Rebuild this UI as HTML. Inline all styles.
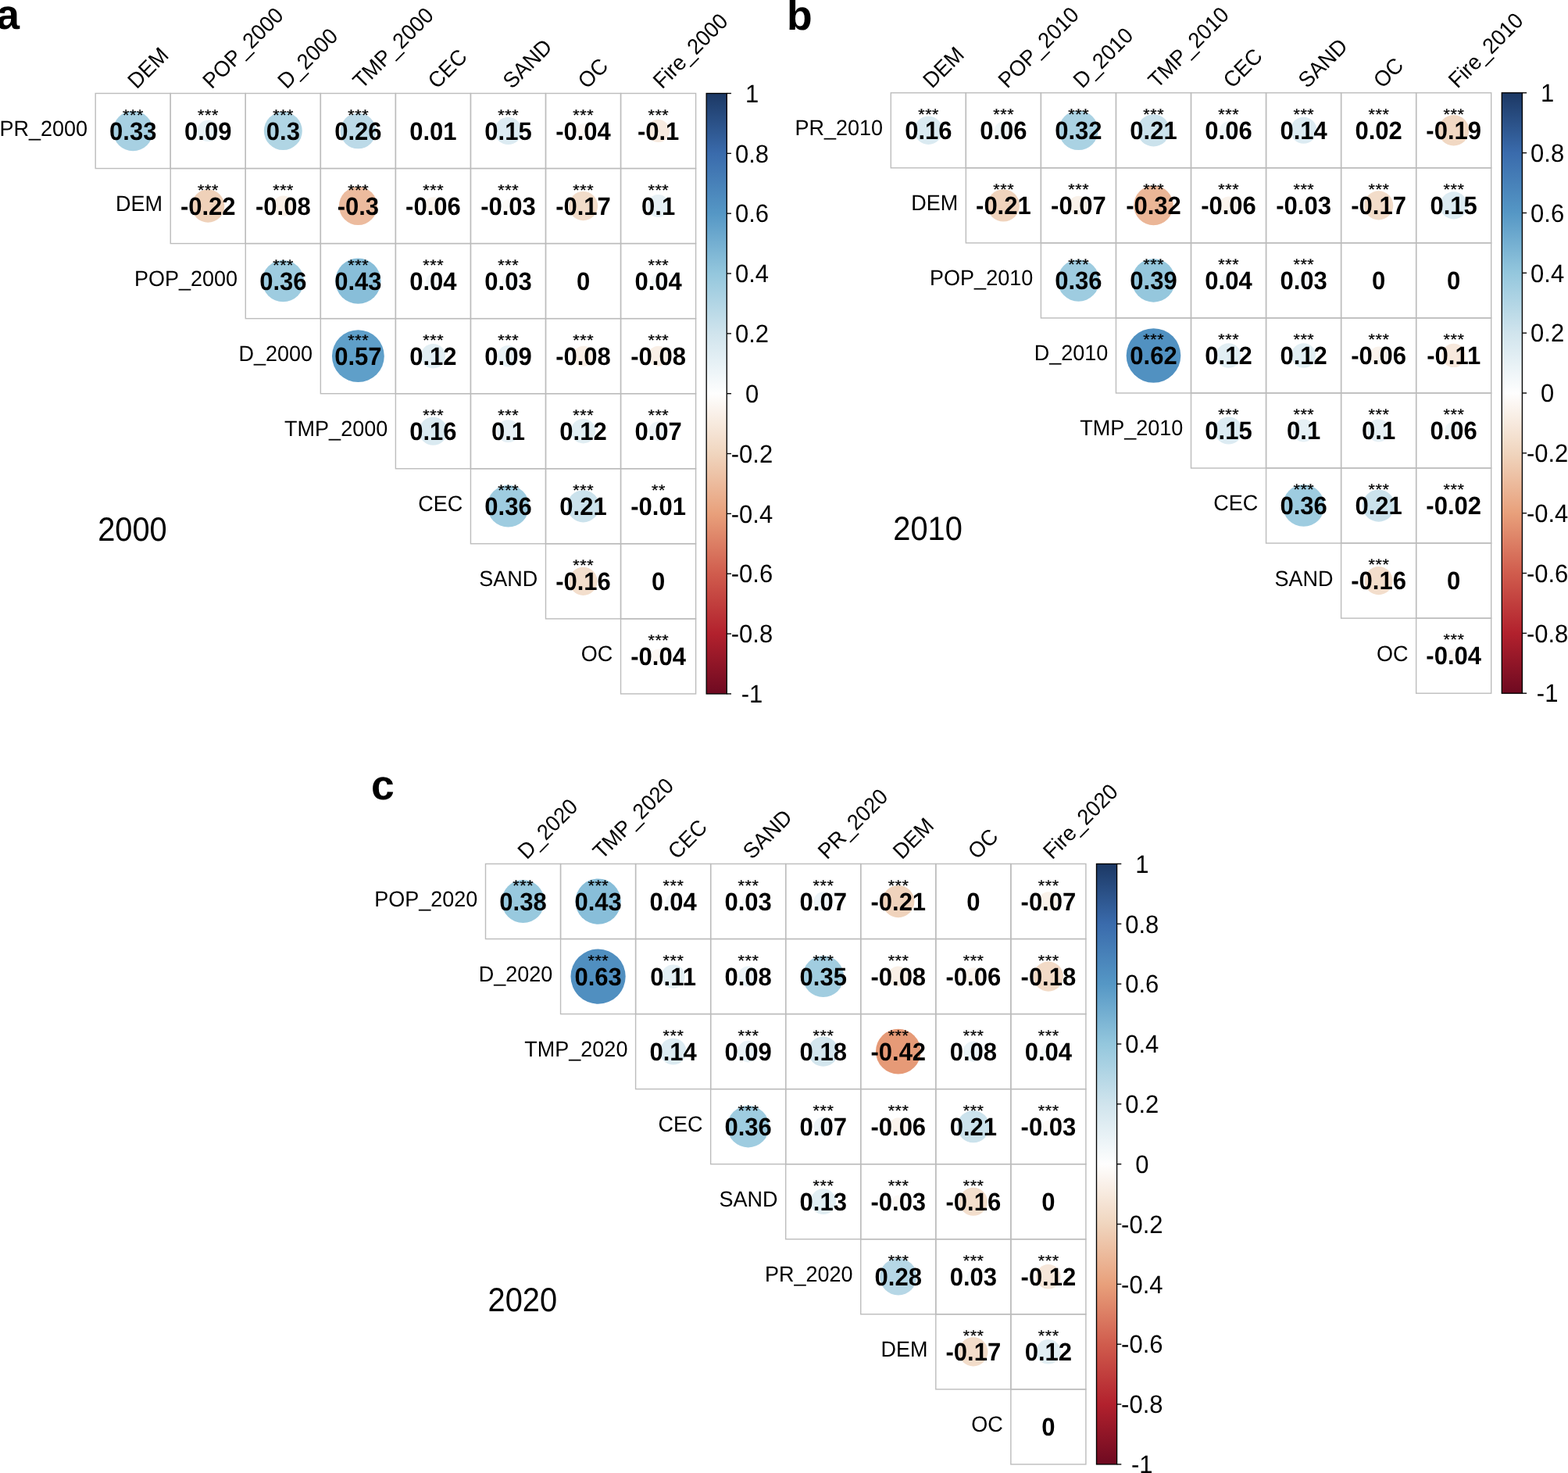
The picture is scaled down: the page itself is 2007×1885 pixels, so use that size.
<!DOCTYPE html><html><head><meta charset="utf-8"><title>Correlation matrices 2000, 2010, 2020</title><style>html,body{margin:0;padding:0;background:#fff;}svg{display:block;}text{font-family:"Liberation Sans", Arial, Helvetica, sans-serif;text-rendering:geometricPrecision;}</style></head><body>
<svg width="2007" height="1885" viewBox="0 0 2007 1885">
<defs><linearGradient id="cb" x1="0" y1="0" x2="0" y2="1">
<stop offset="0" stop-color="#1c3864"/>
<stop offset="0.1" stop-color="#3a6bac"/>
<stop offset="0.2" stop-color="#5597c5"/>
<stop offset="0.3" stop-color="#94c7dd"/>
<stop offset="0.4" stop-color="#d0e4ed"/>
<stop offset="0.5" stop-color="#fefefe"/>
<stop offset="0.6" stop-color="#f0d5be"/>
<stop offset="0.7" stop-color="#e8a07b"/>
<stop offset="0.8" stop-color="#d05c4d"/>
<stop offset="0.9" stop-color="#b2212d"/>
<stop offset="1" stop-color="#6e0a21"/>
</linearGradient></defs>
<rect width="2007" height="1885" fill="#fff"/>
<g>
<circle cx="170.22" cy="167.53" r="25.63" fill="#a7d0e2"/>
<circle cx="266.27" cy="167.53" r="13.77" fill="#e8f2f6"/>
<circle cx="362.32" cy="167.53" r="24.47" fill="#b0d5e4"/>
<circle cx="458.38" cy="167.53" r="22.84" fill="#bcdae8"/>
<circle cx="554.42" cy="167.53" r="5.12" fill="#fbfcfd"/>
<circle cx="650.48" cy="167.53" r="17.54" fill="#dcebf2"/>
<circle cx="746.52" cy="167.53" r="9.44" fill="#fcf7f3"/>
<circle cx="842.58" cy="167.53" r="14.47" fill="#f7eadf"/>
<circle cx="266.27" cy="263.57" r="21.07" fill="#efd1b9"/>
<circle cx="362.32" cy="263.57" r="13.03" fill="#f9efe6"/>
<circle cx="458.38" cy="263.57" r="24.47" fill="#ecbb9e"/>
<circle cx="554.42" cy="263.57" r="11.39" fill="#faf3ec"/>
<circle cx="650.48" cy="263.57" r="8.29" fill="#fcf9f6"/>
<circle cx="746.52" cy="263.57" r="18.62" fill="#f2dcc9"/>
<circle cx="842.58" cy="263.57" r="14.47" fill="#e6f0f5"/>
<circle cx="362.32" cy="359.62" r="26.73" fill="#9ecce0"/>
<circle cx="458.38" cy="359.62" r="29.14" fill="#88bed9"/>
<circle cx="554.42" cy="359.62" r="9.44" fill="#f4f8fa"/>
<circle cx="650.48" cy="359.62" r="8.29" fill="#f6f9fb"/>
<circle cx="842.58" cy="359.62" r="9.44" fill="#f4f8fa"/>
<circle cx="458.38" cy="455.68" r="33.43" fill="#5f9fc9"/>
<circle cx="554.42" cy="455.68" r="15.77" fill="#e1eef3"/>
<circle cx="650.48" cy="455.68" r="13.77" fill="#e8f2f6"/>
<circle cx="746.52" cy="455.68" r="13.03" fill="#f9efe6"/>
<circle cx="842.58" cy="455.68" r="13.03" fill="#f9efe6"/>
<circle cx="554.42" cy="551.72" r="18.09" fill="#daeaf1"/>
<circle cx="650.48" cy="551.72" r="14.47" fill="#e6f0f5"/>
<circle cx="746.52" cy="551.72" r="15.77" fill="#e1eef3"/>
<circle cx="842.58" cy="551.72" r="12.24" fill="#edf4f8"/>
<circle cx="650.48" cy="647.77" r="26.73" fill="#9ecce0"/>
<circle cx="746.52" cy="647.77" r="20.61" fill="#cbe2ec"/>
<circle cx="842.58" cy="647.77" r="5.12" fill="#fefdfc"/>
<circle cx="746.52" cy="743.82" r="18.09" fill="#f3decc"/>
<circle cx="842.58" cy="839.88" r="9.44" fill="#fcf7f3"/>
<rect x="122.2" y="119.5" width="96.05" height="96.05" fill="none" stroke="#bcbcbc" stroke-width="1.4"/>
<rect x="218.25" y="119.5" width="96.05" height="96.05" fill="none" stroke="#bcbcbc" stroke-width="1.4"/>
<rect x="314.3" y="119.5" width="96.05" height="96.05" fill="none" stroke="#bcbcbc" stroke-width="1.4"/>
<rect x="410.35" y="119.5" width="96.05" height="96.05" fill="none" stroke="#bcbcbc" stroke-width="1.4"/>
<rect x="506.4" y="119.5" width="96.05" height="96.05" fill="none" stroke="#bcbcbc" stroke-width="1.4"/>
<rect x="602.45" y="119.5" width="96.05" height="96.05" fill="none" stroke="#bcbcbc" stroke-width="1.4"/>
<rect x="698.5" y="119.5" width="96.05" height="96.05" fill="none" stroke="#bcbcbc" stroke-width="1.4"/>
<rect x="794.55" y="119.5" width="96.05" height="96.05" fill="none" stroke="#bcbcbc" stroke-width="1.4"/>
<rect x="218.25" y="215.55" width="96.05" height="96.05" fill="none" stroke="#bcbcbc" stroke-width="1.4"/>
<rect x="314.3" y="215.55" width="96.05" height="96.05" fill="none" stroke="#bcbcbc" stroke-width="1.4"/>
<rect x="410.35" y="215.55" width="96.05" height="96.05" fill="none" stroke="#bcbcbc" stroke-width="1.4"/>
<rect x="506.4" y="215.55" width="96.05" height="96.05" fill="none" stroke="#bcbcbc" stroke-width="1.4"/>
<rect x="602.45" y="215.55" width="96.05" height="96.05" fill="none" stroke="#bcbcbc" stroke-width="1.4"/>
<rect x="698.5" y="215.55" width="96.05" height="96.05" fill="none" stroke="#bcbcbc" stroke-width="1.4"/>
<rect x="794.55" y="215.55" width="96.05" height="96.05" fill="none" stroke="#bcbcbc" stroke-width="1.4"/>
<rect x="314.3" y="311.6" width="96.05" height="96.05" fill="none" stroke="#bcbcbc" stroke-width="1.4"/>
<rect x="410.35" y="311.6" width="96.05" height="96.05" fill="none" stroke="#bcbcbc" stroke-width="1.4"/>
<rect x="506.4" y="311.6" width="96.05" height="96.05" fill="none" stroke="#bcbcbc" stroke-width="1.4"/>
<rect x="602.45" y="311.6" width="96.05" height="96.05" fill="none" stroke="#bcbcbc" stroke-width="1.4"/>
<rect x="698.5" y="311.6" width="96.05" height="96.05" fill="none" stroke="#bcbcbc" stroke-width="1.4"/>
<rect x="794.55" y="311.6" width="96.05" height="96.05" fill="none" stroke="#bcbcbc" stroke-width="1.4"/>
<rect x="410.35" y="407.65" width="96.05" height="96.05" fill="none" stroke="#bcbcbc" stroke-width="1.4"/>
<rect x="506.4" y="407.65" width="96.05" height="96.05" fill="none" stroke="#bcbcbc" stroke-width="1.4"/>
<rect x="602.45" y="407.65" width="96.05" height="96.05" fill="none" stroke="#bcbcbc" stroke-width="1.4"/>
<rect x="698.5" y="407.65" width="96.05" height="96.05" fill="none" stroke="#bcbcbc" stroke-width="1.4"/>
<rect x="794.55" y="407.65" width="96.05" height="96.05" fill="none" stroke="#bcbcbc" stroke-width="1.4"/>
<rect x="506.4" y="503.7" width="96.05" height="96.05" fill="none" stroke="#bcbcbc" stroke-width="1.4"/>
<rect x="602.45" y="503.7" width="96.05" height="96.05" fill="none" stroke="#bcbcbc" stroke-width="1.4"/>
<rect x="698.5" y="503.7" width="96.05" height="96.05" fill="none" stroke="#bcbcbc" stroke-width="1.4"/>
<rect x="794.55" y="503.7" width="96.05" height="96.05" fill="none" stroke="#bcbcbc" stroke-width="1.4"/>
<rect x="602.45" y="599.75" width="96.05" height="96.05" fill="none" stroke="#bcbcbc" stroke-width="1.4"/>
<rect x="698.5" y="599.75" width="96.05" height="96.05" fill="none" stroke="#bcbcbc" stroke-width="1.4"/>
<rect x="794.55" y="599.75" width="96.05" height="96.05" fill="none" stroke="#bcbcbc" stroke-width="1.4"/>
<rect x="698.5" y="695.8" width="96.05" height="96.05" fill="none" stroke="#bcbcbc" stroke-width="1.4"/>
<rect x="794.55" y="695.8" width="96.05" height="96.05" fill="none" stroke="#bcbcbc" stroke-width="1.4"/>
<rect x="794.55" y="791.85" width="96.05" height="96.05" fill="none" stroke="#bcbcbc" stroke-width="1.4"/>
<g font-weight="bold" font-size="31" text-anchor="middle">
<text transform="translate(170.22 178.83) scale(1 1.04)">0.33</text>
<text transform="translate(266.27 178.83) scale(1 1.04)">0.09</text>
<text transform="translate(362.32 178.83) scale(1 1.04)">0.3</text>
<text transform="translate(458.38 178.83) scale(1 1.04)">0.26</text>
<text transform="translate(554.42 178.83) scale(1 1.04)">0.01</text>
<text transform="translate(650.48 178.83) scale(1 1.04)">0.15</text>
<text transform="translate(746.52 178.83) scale(1 1.04)">-0.04</text>
<text transform="translate(842.58 178.83) scale(1 1.04)">-0.1</text>
<text transform="translate(266.27 274.88) scale(1 1.04)">-0.22</text>
<text transform="translate(362.32 274.88) scale(1 1.04)">-0.08</text>
<text transform="translate(458.38 274.88) scale(1 1.04)">-0.3</text>
<text transform="translate(554.42 274.88) scale(1 1.04)">-0.06</text>
<text transform="translate(650.48 274.88) scale(1 1.04)">-0.03</text>
<text transform="translate(746.52 274.88) scale(1 1.04)">-0.17</text>
<text transform="translate(842.58 274.88) scale(1 1.04)">0.1</text>
<text transform="translate(362.32 370.93) scale(1 1.04)">0.36</text>
<text transform="translate(458.38 370.93) scale(1 1.04)">0.43</text>
<text transform="translate(554.42 370.93) scale(1 1.04)">0.04</text>
<text transform="translate(650.48 370.93) scale(1 1.04)">0.03</text>
<text transform="translate(746.52 370.93) scale(1 1.04)">0</text>
<text transform="translate(842.58 370.93) scale(1 1.04)">0.04</text>
<text transform="translate(458.38 466.98) scale(1 1.04)">0.57</text>
<text transform="translate(554.42 466.98) scale(1 1.04)">0.12</text>
<text transform="translate(650.48 466.98) scale(1 1.04)">0.09</text>
<text transform="translate(746.52 466.98) scale(1 1.04)">-0.08</text>
<text transform="translate(842.58 466.98) scale(1 1.04)">-0.08</text>
<text transform="translate(554.42 563.02) scale(1 1.04)">0.16</text>
<text transform="translate(650.48 563.02) scale(1 1.04)">0.1</text>
<text transform="translate(746.52 563.02) scale(1 1.04)">0.12</text>
<text transform="translate(842.58 563.02) scale(1 1.04)">0.07</text>
<text transform="translate(650.48 659.07) scale(1 1.04)">0.36</text>
<text transform="translate(746.52 659.07) scale(1 1.04)">0.21</text>
<text transform="translate(842.58 659.07) scale(1 1.04)">-0.01</text>
<text transform="translate(746.52 755.12) scale(1 1.04)">-0.16</text>
<text transform="translate(842.58 755.12) scale(1 1.04)">0</text>
<text transform="translate(842.58 851.17) scale(1 1.04)">-0.04</text>
</g>
<g font-size="21.5" text-anchor="middle" stroke="#000" stroke-width="0.3" letter-spacing="0.6">
<text transform="translate(170.53 153.53) scale(1 0.92)">***</text>
<text transform="translate(266.57 153.53) scale(1 0.92)">***</text>
<text transform="translate(362.62 153.53) scale(1 0.92)">***</text>
<text transform="translate(458.68 153.53) scale(1 0.92)">***</text>
<text transform="translate(650.77 153.53) scale(1 0.92)">***</text>
<text transform="translate(746.82 153.53) scale(1 0.92)">***</text>
<text transform="translate(842.88 153.53) scale(1 0.92)">***</text>
<text transform="translate(266.57 249.57) scale(1 0.92)">***</text>
<text transform="translate(362.62 249.57) scale(1 0.92)">***</text>
<text transform="translate(458.68 249.57) scale(1 0.92)">***</text>
<text transform="translate(554.72 249.57) scale(1 0.92)">***</text>
<text transform="translate(650.77 249.57) scale(1 0.92)">***</text>
<text transform="translate(746.82 249.57) scale(1 0.92)">***</text>
<text transform="translate(842.88 249.57) scale(1 0.92)">***</text>
<text transform="translate(362.62 345.62) scale(1 0.92)">***</text>
<text transform="translate(458.68 345.62) scale(1 0.92)">***</text>
<text transform="translate(554.72 345.62) scale(1 0.92)">***</text>
<text transform="translate(650.77 345.62) scale(1 0.92)">***</text>
<text transform="translate(842.88 345.62) scale(1 0.92)">***</text>
<text transform="translate(458.68 441.68) scale(1 0.92)">***</text>
<text transform="translate(554.72 441.68) scale(1 0.92)">***</text>
<text transform="translate(650.77 441.68) scale(1 0.92)">***</text>
<text transform="translate(746.82 441.68) scale(1 0.92)">***</text>
<text transform="translate(842.88 441.68) scale(1 0.92)">***</text>
<text transform="translate(554.72 537.72) scale(1 0.92)">***</text>
<text transform="translate(650.77 537.72) scale(1 0.92)">***</text>
<text transform="translate(746.82 537.72) scale(1 0.92)">***</text>
<text transform="translate(842.88 537.72) scale(1 0.92)">***</text>
<text transform="translate(650.77 633.77) scale(1 0.92)">***</text>
<text transform="translate(746.82 633.77) scale(1 0.92)">***</text>
<text transform="translate(842.88 633.77) scale(1 0.92)">**</text>
<text transform="translate(746.82 729.82) scale(1 0.92)">***</text>
<text transform="translate(842.88 825.88) scale(1 0.92)">***</text>
</g>
<g font-size="27" text-anchor="end">
<text transform="translate(112 173.93) scale(1 1.04)">PR_2000</text>
<text transform="translate(208.05 269.97) scale(1 1.04)">DEM</text>
<text transform="translate(304.1 366.02) scale(1 1.04)">POP_2000</text>
<text transform="translate(400.15 462.07) scale(1 1.04)">D_2000</text>
<text transform="translate(496.2 558.12) scale(1 1.04)">TMP_2000</text>
<text transform="translate(592.25 654.17) scale(1 1.04)">CEC</text>
<text transform="translate(688.3 750.22) scale(1 1.04)">SAND</text>
<text transform="translate(784.35 846.27) scale(1 1.04)">OC</text>
</g>
<g font-size="27">
<text transform="translate(175.03 114.8) rotate(-45) scale(1 1.04)">DEM</text>
<text transform="translate(271.07 114.8) rotate(-45) scale(1 1.04)">POP_2000</text>
<text transform="translate(367.12 114.8) rotate(-45) scale(1 1.04)">D_2000</text>
<text transform="translate(463.18 114.8) rotate(-45) scale(1 1.04)">TMP_2000</text>
<text transform="translate(559.22 114.8) rotate(-45) scale(1 1.04)">CEC</text>
<text transform="translate(655.27 114.8) rotate(-45) scale(1 1.04)">SAND</text>
<text transform="translate(751.32 114.8) rotate(-45) scale(1 1.04)">OC</text>
<text transform="translate(847.38 114.8) rotate(-45) scale(1 1.04)">Fire_2000</text>
</g>
<rect x="904.2" y="119.5" width="26.1" height="768.4" fill="url(#cb)" stroke="#000" stroke-width="1.35"/>
<g font-size="31" text-anchor="middle">
<line x1="930.3" y1="119.5" x2="936" y2="119.5" stroke="#000" stroke-width="1.35"/>
<text transform="translate(962.5 130.7) scale(1 1.04)">1</text>
<line x1="930.3" y1="196.34" x2="936" y2="196.34" stroke="#000" stroke-width="1.35"/>
<text transform="translate(962.5 207.54) scale(1 1.04)">0.8</text>
<line x1="930.3" y1="273.18" x2="936" y2="273.18" stroke="#000" stroke-width="1.35"/>
<text transform="translate(962.5 284.38) scale(1 1.04)">0.6</text>
<line x1="930.3" y1="350.02" x2="936" y2="350.02" stroke="#000" stroke-width="1.35"/>
<text transform="translate(962.5 361.22) scale(1 1.04)">0.4</text>
<line x1="930.3" y1="426.86" x2="936" y2="426.86" stroke="#000" stroke-width="1.35"/>
<text transform="translate(962.5 438.06) scale(1 1.04)">0.2</text>
<line x1="930.3" y1="503.7" x2="936" y2="503.7" stroke="#000" stroke-width="1.35"/>
<text transform="translate(962.5 514.9) scale(1 1.04)">0</text>
<line x1="930.3" y1="580.54" x2="936" y2="580.54" stroke="#000" stroke-width="1.35"/>
<text transform="translate(962.5 591.74) scale(1 1.04)">-0.2</text>
<line x1="930.3" y1="657.38" x2="936" y2="657.38" stroke="#000" stroke-width="1.35"/>
<text transform="translate(962.5 668.58) scale(1 1.04)">-0.4</text>
<line x1="930.3" y1="734.22" x2="936" y2="734.22" stroke="#000" stroke-width="1.35"/>
<text transform="translate(962.5 745.42) scale(1 1.04)">-0.6</text>
<line x1="930.3" y1="811.06" x2="936" y2="811.06" stroke="#000" stroke-width="1.35"/>
<text transform="translate(962.5 822.26) scale(1 1.04)">-0.8</text>
<line x1="930.3" y1="887.9" x2="936" y2="887.9" stroke="#000" stroke-width="1.35"/>
<text transform="translate(962.5 899.1) scale(1 1.04)">-1</text>
</g>
<text transform="translate(125.2 691.6) scale(0.928 1)" font-size="42.9">2000</text>
<text x="-4.8" y="37.3" font-size="53.5" font-weight="bold">a</text>
</g>
<g>
<circle cx="1188.33" cy="166.82" r="18.09" fill="#daeaf1"/>
<circle cx="1284.38" cy="166.82" r="11.39" fill="#eff6f8"/>
<circle cx="1380.42" cy="166.82" r="25.25" fill="#aad2e3"/>
<circle cx="1476.47" cy="166.82" r="20.61" fill="#cbe2ec"/>
<circle cx="1572.52" cy="166.82" r="11.39" fill="#eff6f8"/>
<circle cx="1668.57" cy="166.82" r="16.97" fill="#dcebf2"/>
<circle cx="1764.62" cy="166.82" r="6.91" fill="#f8fbfc"/>
<circle cx="1860.67" cy="166.82" r="19.64" fill="#f1d8c3"/>
<circle cx="1284.38" cy="262.88" r="20.61" fill="#f0d3bc"/>
<circle cx="1380.42" cy="262.88" r="12.24" fill="#f9f1e9"/>
<circle cx="1476.47" cy="262.88" r="25.25" fill="#ebb697"/>
<circle cx="1572.52" cy="262.88" r="11.39" fill="#faf3ec"/>
<circle cx="1668.57" cy="262.88" r="8.29" fill="#fcf9f6"/>
<circle cx="1764.62" cy="262.88" r="18.62" fill="#f2dcc9"/>
<circle cx="1860.67" cy="262.88" r="17.54" fill="#dcebf2"/>
<circle cx="1380.42" cy="358.93" r="26.73" fill="#9ecce0"/>
<circle cx="1476.47" cy="358.93" r="27.79" fill="#95c7dd"/>
<circle cx="1572.52" cy="358.93" r="9.44" fill="#f4f8fa"/>
<circle cx="1668.57" cy="358.93" r="8.29" fill="#f6f9fb"/>
<circle cx="1476.47" cy="454.98" r="34.83" fill="#5191c1"/>
<circle cx="1572.52" cy="454.98" r="15.77" fill="#e1eef3"/>
<circle cx="1668.57" cy="454.98" r="15.77" fill="#e1eef3"/>
<circle cx="1764.62" cy="454.98" r="11.39" fill="#faf3ec"/>
<circle cx="1860.67" cy="454.98" r="15.14" fill="#f7e8dc"/>
<circle cx="1572.52" cy="551.02" r="17.54" fill="#dcebf2"/>
<circle cx="1668.57" cy="551.02" r="14.47" fill="#e6f0f5"/>
<circle cx="1764.62" cy="551.02" r="14.47" fill="#e6f0f5"/>
<circle cx="1860.67" cy="551.02" r="11.39" fill="#eff6f8"/>
<circle cx="1668.57" cy="647.07" r="26.73" fill="#9ecce0"/>
<circle cx="1764.62" cy="647.07" r="20.61" fill="#cbe2ec"/>
<circle cx="1860.67" cy="647.07" r="6.91" fill="#fdfbf9"/>
<circle cx="1764.62" cy="743.12" r="18.09" fill="#f3decc"/>
<circle cx="1860.67" cy="839.17" r="9.44" fill="#fcf7f3"/>
<rect x="1140.3" y="118.8" width="96.05" height="96.05" fill="none" stroke="#bcbcbc" stroke-width="1.4"/>
<rect x="1236.35" y="118.8" width="96.05" height="96.05" fill="none" stroke="#bcbcbc" stroke-width="1.4"/>
<rect x="1332.4" y="118.8" width="96.05" height="96.05" fill="none" stroke="#bcbcbc" stroke-width="1.4"/>
<rect x="1428.45" y="118.8" width="96.05" height="96.05" fill="none" stroke="#bcbcbc" stroke-width="1.4"/>
<rect x="1524.5" y="118.8" width="96.05" height="96.05" fill="none" stroke="#bcbcbc" stroke-width="1.4"/>
<rect x="1620.55" y="118.8" width="96.05" height="96.05" fill="none" stroke="#bcbcbc" stroke-width="1.4"/>
<rect x="1716.6" y="118.8" width="96.05" height="96.05" fill="none" stroke="#bcbcbc" stroke-width="1.4"/>
<rect x="1812.65" y="118.8" width="96.05" height="96.05" fill="none" stroke="#bcbcbc" stroke-width="1.4"/>
<rect x="1236.35" y="214.85" width="96.05" height="96.05" fill="none" stroke="#bcbcbc" stroke-width="1.4"/>
<rect x="1332.4" y="214.85" width="96.05" height="96.05" fill="none" stroke="#bcbcbc" stroke-width="1.4"/>
<rect x="1428.45" y="214.85" width="96.05" height="96.05" fill="none" stroke="#bcbcbc" stroke-width="1.4"/>
<rect x="1524.5" y="214.85" width="96.05" height="96.05" fill="none" stroke="#bcbcbc" stroke-width="1.4"/>
<rect x="1620.55" y="214.85" width="96.05" height="96.05" fill="none" stroke="#bcbcbc" stroke-width="1.4"/>
<rect x="1716.6" y="214.85" width="96.05" height="96.05" fill="none" stroke="#bcbcbc" stroke-width="1.4"/>
<rect x="1812.65" y="214.85" width="96.05" height="96.05" fill="none" stroke="#bcbcbc" stroke-width="1.4"/>
<rect x="1332.4" y="310.9" width="96.05" height="96.05" fill="none" stroke="#bcbcbc" stroke-width="1.4"/>
<rect x="1428.45" y="310.9" width="96.05" height="96.05" fill="none" stroke="#bcbcbc" stroke-width="1.4"/>
<rect x="1524.5" y="310.9" width="96.05" height="96.05" fill="none" stroke="#bcbcbc" stroke-width="1.4"/>
<rect x="1620.55" y="310.9" width="96.05" height="96.05" fill="none" stroke="#bcbcbc" stroke-width="1.4"/>
<rect x="1716.6" y="310.9" width="96.05" height="96.05" fill="none" stroke="#bcbcbc" stroke-width="1.4"/>
<rect x="1812.65" y="310.9" width="96.05" height="96.05" fill="none" stroke="#bcbcbc" stroke-width="1.4"/>
<rect x="1428.45" y="406.95" width="96.05" height="96.05" fill="none" stroke="#bcbcbc" stroke-width="1.4"/>
<rect x="1524.5" y="406.95" width="96.05" height="96.05" fill="none" stroke="#bcbcbc" stroke-width="1.4"/>
<rect x="1620.55" y="406.95" width="96.05" height="96.05" fill="none" stroke="#bcbcbc" stroke-width="1.4"/>
<rect x="1716.6" y="406.95" width="96.05" height="96.05" fill="none" stroke="#bcbcbc" stroke-width="1.4"/>
<rect x="1812.65" y="406.95" width="96.05" height="96.05" fill="none" stroke="#bcbcbc" stroke-width="1.4"/>
<rect x="1524.5" y="503" width="96.05" height="96.05" fill="none" stroke="#bcbcbc" stroke-width="1.4"/>
<rect x="1620.55" y="503" width="96.05" height="96.05" fill="none" stroke="#bcbcbc" stroke-width="1.4"/>
<rect x="1716.6" y="503" width="96.05" height="96.05" fill="none" stroke="#bcbcbc" stroke-width="1.4"/>
<rect x="1812.65" y="503" width="96.05" height="96.05" fill="none" stroke="#bcbcbc" stroke-width="1.4"/>
<rect x="1620.55" y="599.05" width="96.05" height="96.05" fill="none" stroke="#bcbcbc" stroke-width="1.4"/>
<rect x="1716.6" y="599.05" width="96.05" height="96.05" fill="none" stroke="#bcbcbc" stroke-width="1.4"/>
<rect x="1812.65" y="599.05" width="96.05" height="96.05" fill="none" stroke="#bcbcbc" stroke-width="1.4"/>
<rect x="1716.6" y="695.1" width="96.05" height="96.05" fill="none" stroke="#bcbcbc" stroke-width="1.4"/>
<rect x="1812.65" y="695.1" width="96.05" height="96.05" fill="none" stroke="#bcbcbc" stroke-width="1.4"/>
<rect x="1812.65" y="791.15" width="96.05" height="96.05" fill="none" stroke="#bcbcbc" stroke-width="1.4"/>
<g font-weight="bold" font-size="31" text-anchor="middle">
<text transform="translate(1188.33 178.12) scale(1 1.04)">0.16</text>
<text transform="translate(1284.38 178.12) scale(1 1.04)">0.06</text>
<text transform="translate(1380.42 178.12) scale(1 1.04)">0.32</text>
<text transform="translate(1476.47 178.12) scale(1 1.04)">0.21</text>
<text transform="translate(1572.52 178.12) scale(1 1.04)">0.06</text>
<text transform="translate(1668.57 178.12) scale(1 1.04)">0.14</text>
<text transform="translate(1764.62 178.12) scale(1 1.04)">0.02</text>
<text transform="translate(1860.67 178.12) scale(1 1.04)">-0.19</text>
<text transform="translate(1284.38 274.18) scale(1 1.04)">-0.21</text>
<text transform="translate(1380.42 274.18) scale(1 1.04)">-0.07</text>
<text transform="translate(1476.47 274.18) scale(1 1.04)">-0.32</text>
<text transform="translate(1572.52 274.18) scale(1 1.04)">-0.06</text>
<text transform="translate(1668.57 274.18) scale(1 1.04)">-0.03</text>
<text transform="translate(1764.62 274.18) scale(1 1.04)">-0.17</text>
<text transform="translate(1860.67 274.18) scale(1 1.04)">0.15</text>
<text transform="translate(1380.42 370.23) scale(1 1.04)">0.36</text>
<text transform="translate(1476.47 370.23) scale(1 1.04)">0.39</text>
<text transform="translate(1572.52 370.23) scale(1 1.04)">0.04</text>
<text transform="translate(1668.57 370.23) scale(1 1.04)">0.03</text>
<text transform="translate(1764.62 370.23) scale(1 1.04)">0</text>
<text transform="translate(1860.67 370.23) scale(1 1.04)">0</text>
<text transform="translate(1476.47 466.28) scale(1 1.04)">0.62</text>
<text transform="translate(1572.52 466.28) scale(1 1.04)">0.12</text>
<text transform="translate(1668.57 466.28) scale(1 1.04)">0.12</text>
<text transform="translate(1764.62 466.28) scale(1 1.04)">-0.06</text>
<text transform="translate(1860.67 466.28) scale(1 1.04)">-0.11</text>
<text transform="translate(1572.52 562.32) scale(1 1.04)">0.15</text>
<text transform="translate(1668.57 562.32) scale(1 1.04)">0.1</text>
<text transform="translate(1764.62 562.32) scale(1 1.04)">0.1</text>
<text transform="translate(1860.67 562.32) scale(1 1.04)">0.06</text>
<text transform="translate(1668.57 658.37) scale(1 1.04)">0.36</text>
<text transform="translate(1764.62 658.37) scale(1 1.04)">0.21</text>
<text transform="translate(1860.67 658.37) scale(1 1.04)">-0.02</text>
<text transform="translate(1764.62 754.42) scale(1 1.04)">-0.16</text>
<text transform="translate(1860.67 754.42) scale(1 1.04)">0</text>
<text transform="translate(1860.67 850.47) scale(1 1.04)">-0.04</text>
</g>
<g font-size="21.5" text-anchor="middle" stroke="#000" stroke-width="0.3" letter-spacing="0.6">
<text transform="translate(1188.62 152.82) scale(1 0.92)">***</text>
<text transform="translate(1284.67 152.82) scale(1 0.92)">***</text>
<text transform="translate(1380.72 152.82) scale(1 0.92)">***</text>
<text transform="translate(1476.77 152.82) scale(1 0.92)">***</text>
<text transform="translate(1572.82 152.82) scale(1 0.92)">***</text>
<text transform="translate(1668.87 152.82) scale(1 0.92)">***</text>
<text transform="translate(1764.92 152.82) scale(1 0.92)">***</text>
<text transform="translate(1860.97 152.82) scale(1 0.92)">***</text>
<text transform="translate(1284.67 248.88) scale(1 0.92)">***</text>
<text transform="translate(1380.72 248.88) scale(1 0.92)">***</text>
<text transform="translate(1476.77 248.88) scale(1 0.92)">***</text>
<text transform="translate(1572.82 248.88) scale(1 0.92)">***</text>
<text transform="translate(1668.87 248.88) scale(1 0.92)">***</text>
<text transform="translate(1764.92 248.88) scale(1 0.92)">***</text>
<text transform="translate(1860.97 248.88) scale(1 0.92)">***</text>
<text transform="translate(1380.72 344.93) scale(1 0.92)">***</text>
<text transform="translate(1476.77 344.93) scale(1 0.92)">***</text>
<text transform="translate(1572.82 344.93) scale(1 0.92)">***</text>
<text transform="translate(1668.87 344.93) scale(1 0.92)">***</text>
<text transform="translate(1476.77 440.98) scale(1 0.92)">***</text>
<text transform="translate(1572.82 440.98) scale(1 0.92)">***</text>
<text transform="translate(1668.87 440.98) scale(1 0.92)">***</text>
<text transform="translate(1764.92 440.98) scale(1 0.92)">***</text>
<text transform="translate(1860.97 440.98) scale(1 0.92)">***</text>
<text transform="translate(1572.82 537.02) scale(1 0.92)">***</text>
<text transform="translate(1668.87 537.02) scale(1 0.92)">***</text>
<text transform="translate(1764.92 537.02) scale(1 0.92)">***</text>
<text transform="translate(1860.97 537.02) scale(1 0.92)">***</text>
<text transform="translate(1668.87 633.07) scale(1 0.92)">***</text>
<text transform="translate(1764.92 633.07) scale(1 0.92)">***</text>
<text transform="translate(1860.97 633.07) scale(1 0.92)">***</text>
<text transform="translate(1764.92 729.12) scale(1 0.92)">***</text>
<text transform="translate(1860.97 825.17) scale(1 0.92)">***</text>
</g>
<g font-size="27" text-anchor="end">
<text transform="translate(1130.1 173.22) scale(1 1.04)">PR_2010</text>
<text transform="translate(1226.15 269.27) scale(1 1.04)">DEM</text>
<text transform="translate(1322.2 365.32) scale(1 1.04)">POP_2010</text>
<text transform="translate(1418.25 461.38) scale(1 1.04)">D_2010</text>
<text transform="translate(1514.3 557.42) scale(1 1.04)">TMP_2010</text>
<text transform="translate(1610.35 653.47) scale(1 1.04)">CEC</text>
<text transform="translate(1706.4 749.52) scale(1 1.04)">SAND</text>
<text transform="translate(1802.45 845.57) scale(1 1.04)">OC</text>
</g>
<g font-size="27">
<text transform="translate(1193.12 114.1) rotate(-45) scale(1 1.04)">DEM</text>
<text transform="translate(1289.17 114.1) rotate(-45) scale(1 1.04)">POP_2010</text>
<text transform="translate(1385.22 114.1) rotate(-45) scale(1 1.04)">D_2010</text>
<text transform="translate(1481.27 114.1) rotate(-45) scale(1 1.04)">TMP_2010</text>
<text transform="translate(1577.32 114.1) rotate(-45) scale(1 1.04)">CEC</text>
<text transform="translate(1673.37 114.1) rotate(-45) scale(1 1.04)">SAND</text>
<text transform="translate(1769.42 114.1) rotate(-45) scale(1 1.04)">OC</text>
<text transform="translate(1865.47 114.1) rotate(-45) scale(1 1.04)">Fire_2010</text>
</g>
<rect x="1922.3" y="118.8" width="26.1" height="768.4" fill="url(#cb)" stroke="#000" stroke-width="1.35"/>
<g font-size="31" text-anchor="middle">
<line x1="1948.4" y1="118.8" x2="1954.1" y2="118.8" stroke="#000" stroke-width="1.35"/>
<text transform="translate(1980.6 130) scale(1 1.04)">1</text>
<line x1="1948.4" y1="195.64" x2="1954.1" y2="195.64" stroke="#000" stroke-width="1.35"/>
<text transform="translate(1980.6 206.84) scale(1 1.04)">0.8</text>
<line x1="1948.4" y1="272.48" x2="1954.1" y2="272.48" stroke="#000" stroke-width="1.35"/>
<text transform="translate(1980.6 283.68) scale(1 1.04)">0.6</text>
<line x1="1948.4" y1="349.32" x2="1954.1" y2="349.32" stroke="#000" stroke-width="1.35"/>
<text transform="translate(1980.6 360.52) scale(1 1.04)">0.4</text>
<line x1="1948.4" y1="426.16" x2="1954.1" y2="426.16" stroke="#000" stroke-width="1.35"/>
<text transform="translate(1980.6 437.36) scale(1 1.04)">0.2</text>
<line x1="1948.4" y1="503" x2="1954.1" y2="503" stroke="#000" stroke-width="1.35"/>
<text transform="translate(1980.6 514.2) scale(1 1.04)">0</text>
<line x1="1948.4" y1="579.84" x2="1954.1" y2="579.84" stroke="#000" stroke-width="1.35"/>
<text transform="translate(1980.6 591.04) scale(1 1.04)">-0.2</text>
<line x1="1948.4" y1="656.68" x2="1954.1" y2="656.68" stroke="#000" stroke-width="1.35"/>
<text transform="translate(1980.6 667.88) scale(1 1.04)">-0.4</text>
<line x1="1948.4" y1="733.52" x2="1954.1" y2="733.52" stroke="#000" stroke-width="1.35"/>
<text transform="translate(1980.6 744.72) scale(1 1.04)">-0.6</text>
<line x1="1948.4" y1="810.36" x2="1954.1" y2="810.36" stroke="#000" stroke-width="1.35"/>
<text transform="translate(1980.6 821.56) scale(1 1.04)">-0.8</text>
<line x1="1948.4" y1="887.2" x2="1954.1" y2="887.2" stroke="#000" stroke-width="1.35"/>
<text transform="translate(1980.6 898.4) scale(1 1.04)">-1</text>
</g>
<text transform="translate(1143.3 690.9) scale(0.928 1)" font-size="42.9">2010</text>
<text x="1007" y="37.5" font-size="53.5" font-weight="bold">b</text>
</g>
<g>
<circle cx="669.52" cy="1153.53" r="27.44" fill="#98c9de"/>
<circle cx="765.58" cy="1153.53" r="29.14" fill="#88bed9"/>
<circle cx="861.62" cy="1153.53" r="9.44" fill="#f4f8fa"/>
<circle cx="957.67" cy="1153.53" r="8.29" fill="#f6f9fb"/>
<circle cx="1053.72" cy="1153.53" r="12.24" fill="#edf4f8"/>
<circle cx="1149.78" cy="1153.53" r="20.61" fill="#f0d3bc"/>
<circle cx="1341.88" cy="1153.53" r="12.24" fill="#f9f1e9"/>
<circle cx="765.58" cy="1249.58" r="35.11" fill="#508fc0"/>
<circle cx="861.62" cy="1249.58" r="15.14" fill="#e3eff4"/>
<circle cx="957.67" cy="1249.58" r="13.03" fill="#eaf3f7"/>
<circle cx="1053.72" cy="1249.58" r="26.37" fill="#a1cde0"/>
<circle cx="1149.78" cy="1249.58" r="13.03" fill="#f9efe6"/>
<circle cx="1245.82" cy="1249.58" r="11.39" fill="#faf3ec"/>
<circle cx="1341.88" cy="1249.58" r="19.14" fill="#f2dac6"/>
<circle cx="861.62" cy="1345.62" r="16.97" fill="#dcebf2"/>
<circle cx="957.67" cy="1345.62" r="13.77" fill="#e8f2f6"/>
<circle cx="1053.72" cy="1345.62" r="19.14" fill="#d3e6ee"/>
<circle cx="1149.78" cy="1345.62" r="28.81" fill="#e69a77"/>
<circle cx="1245.82" cy="1345.62" r="13.03" fill="#eaf3f7"/>
<circle cx="1341.88" cy="1345.62" r="9.44" fill="#f4f8fa"/>
<circle cx="957.67" cy="1441.67" r="26.73" fill="#9ecce0"/>
<circle cx="1053.72" cy="1441.67" r="12.24" fill="#edf4f8"/>
<circle cx="1149.78" cy="1441.67" r="11.39" fill="#faf3ec"/>
<circle cx="1245.82" cy="1441.67" r="20.61" fill="#cbe2ec"/>
<circle cx="1341.88" cy="1441.67" r="8.29" fill="#fcf9f6"/>
<circle cx="1053.72" cy="1537.72" r="16.38" fill="#e1eef3"/>
<circle cx="1149.78" cy="1537.72" r="8.29" fill="#fcf9f6"/>
<circle cx="1245.82" cy="1537.72" r="18.09" fill="#f3decc"/>
<circle cx="1149.78" cy="1633.78" r="23.67" fill="#b6d7e6"/>
<circle cx="1245.82" cy="1633.78" r="8.29" fill="#f6f9fb"/>
<circle cx="1341.88" cy="1633.78" r="15.77" fill="#f6e6d9"/>
<circle cx="1245.82" cy="1729.82" r="18.62" fill="#f2dcc9"/>
<circle cx="1341.88" cy="1729.82" r="15.77" fill="#e1eef3"/>
<rect x="621.5" y="1105.5" width="96.05" height="96.05" fill="none" stroke="#bcbcbc" stroke-width="1.4"/>
<rect x="717.55" y="1105.5" width="96.05" height="96.05" fill="none" stroke="#bcbcbc" stroke-width="1.4"/>
<rect x="813.6" y="1105.5" width="96.05" height="96.05" fill="none" stroke="#bcbcbc" stroke-width="1.4"/>
<rect x="909.65" y="1105.5" width="96.05" height="96.05" fill="none" stroke="#bcbcbc" stroke-width="1.4"/>
<rect x="1005.7" y="1105.5" width="96.05" height="96.05" fill="none" stroke="#bcbcbc" stroke-width="1.4"/>
<rect x="1101.75" y="1105.5" width="96.05" height="96.05" fill="none" stroke="#bcbcbc" stroke-width="1.4"/>
<rect x="1197.8" y="1105.5" width="96.05" height="96.05" fill="none" stroke="#bcbcbc" stroke-width="1.4"/>
<rect x="1293.85" y="1105.5" width="96.05" height="96.05" fill="none" stroke="#bcbcbc" stroke-width="1.4"/>
<rect x="717.55" y="1201.55" width="96.05" height="96.05" fill="none" stroke="#bcbcbc" stroke-width="1.4"/>
<rect x="813.6" y="1201.55" width="96.05" height="96.05" fill="none" stroke="#bcbcbc" stroke-width="1.4"/>
<rect x="909.65" y="1201.55" width="96.05" height="96.05" fill="none" stroke="#bcbcbc" stroke-width="1.4"/>
<rect x="1005.7" y="1201.55" width="96.05" height="96.05" fill="none" stroke="#bcbcbc" stroke-width="1.4"/>
<rect x="1101.75" y="1201.55" width="96.05" height="96.05" fill="none" stroke="#bcbcbc" stroke-width="1.4"/>
<rect x="1197.8" y="1201.55" width="96.05" height="96.05" fill="none" stroke="#bcbcbc" stroke-width="1.4"/>
<rect x="1293.85" y="1201.55" width="96.05" height="96.05" fill="none" stroke="#bcbcbc" stroke-width="1.4"/>
<rect x="813.6" y="1297.6" width="96.05" height="96.05" fill="none" stroke="#bcbcbc" stroke-width="1.4"/>
<rect x="909.65" y="1297.6" width="96.05" height="96.05" fill="none" stroke="#bcbcbc" stroke-width="1.4"/>
<rect x="1005.7" y="1297.6" width="96.05" height="96.05" fill="none" stroke="#bcbcbc" stroke-width="1.4"/>
<rect x="1101.75" y="1297.6" width="96.05" height="96.05" fill="none" stroke="#bcbcbc" stroke-width="1.4"/>
<rect x="1197.8" y="1297.6" width="96.05" height="96.05" fill="none" stroke="#bcbcbc" stroke-width="1.4"/>
<rect x="1293.85" y="1297.6" width="96.05" height="96.05" fill="none" stroke="#bcbcbc" stroke-width="1.4"/>
<rect x="909.65" y="1393.65" width="96.05" height="96.05" fill="none" stroke="#bcbcbc" stroke-width="1.4"/>
<rect x="1005.7" y="1393.65" width="96.05" height="96.05" fill="none" stroke="#bcbcbc" stroke-width="1.4"/>
<rect x="1101.75" y="1393.65" width="96.05" height="96.05" fill="none" stroke="#bcbcbc" stroke-width="1.4"/>
<rect x="1197.8" y="1393.65" width="96.05" height="96.05" fill="none" stroke="#bcbcbc" stroke-width="1.4"/>
<rect x="1293.85" y="1393.65" width="96.05" height="96.05" fill="none" stroke="#bcbcbc" stroke-width="1.4"/>
<rect x="1005.7" y="1489.7" width="96.05" height="96.05" fill="none" stroke="#bcbcbc" stroke-width="1.4"/>
<rect x="1101.75" y="1489.7" width="96.05" height="96.05" fill="none" stroke="#bcbcbc" stroke-width="1.4"/>
<rect x="1197.8" y="1489.7" width="96.05" height="96.05" fill="none" stroke="#bcbcbc" stroke-width="1.4"/>
<rect x="1293.85" y="1489.7" width="96.05" height="96.05" fill="none" stroke="#bcbcbc" stroke-width="1.4"/>
<rect x="1101.75" y="1585.75" width="96.05" height="96.05" fill="none" stroke="#bcbcbc" stroke-width="1.4"/>
<rect x="1197.8" y="1585.75" width="96.05" height="96.05" fill="none" stroke="#bcbcbc" stroke-width="1.4"/>
<rect x="1293.85" y="1585.75" width="96.05" height="96.05" fill="none" stroke="#bcbcbc" stroke-width="1.4"/>
<rect x="1197.8" y="1681.8" width="96.05" height="96.05" fill="none" stroke="#bcbcbc" stroke-width="1.4"/>
<rect x="1293.85" y="1681.8" width="96.05" height="96.05" fill="none" stroke="#bcbcbc" stroke-width="1.4"/>
<rect x="1293.85" y="1777.85" width="96.05" height="96.05" fill="none" stroke="#bcbcbc" stroke-width="1.4"/>
<g font-weight="bold" font-size="31" text-anchor="middle">
<text transform="translate(669.52 1164.83) scale(1 1.04)">0.38</text>
<text transform="translate(765.58 1164.83) scale(1 1.04)">0.43</text>
<text transform="translate(861.62 1164.83) scale(1 1.04)">0.04</text>
<text transform="translate(957.67 1164.83) scale(1 1.04)">0.03</text>
<text transform="translate(1053.72 1164.83) scale(1 1.04)">0.07</text>
<text transform="translate(1149.78 1164.83) scale(1 1.04)">-0.21</text>
<text transform="translate(1245.82 1164.83) scale(1 1.04)">0</text>
<text transform="translate(1341.88 1164.83) scale(1 1.04)">-0.07</text>
<text transform="translate(765.58 1260.88) scale(1 1.04)">0.63</text>
<text transform="translate(861.62 1260.88) scale(1 1.04)">0.11</text>
<text transform="translate(957.67 1260.88) scale(1 1.04)">0.08</text>
<text transform="translate(1053.72 1260.88) scale(1 1.04)">0.35</text>
<text transform="translate(1149.78 1260.88) scale(1 1.04)">-0.08</text>
<text transform="translate(1245.82 1260.88) scale(1 1.04)">-0.06</text>
<text transform="translate(1341.88 1260.88) scale(1 1.04)">-0.18</text>
<text transform="translate(861.62 1356.92) scale(1 1.04)">0.14</text>
<text transform="translate(957.67 1356.92) scale(1 1.04)">0.09</text>
<text transform="translate(1053.72 1356.92) scale(1 1.04)">0.18</text>
<text transform="translate(1149.78 1356.92) scale(1 1.04)">-0.42</text>
<text transform="translate(1245.82 1356.92) scale(1 1.04)">0.08</text>
<text transform="translate(1341.88 1356.92) scale(1 1.04)">0.04</text>
<text transform="translate(957.67 1452.97) scale(1 1.04)">0.36</text>
<text transform="translate(1053.72 1452.97) scale(1 1.04)">0.07</text>
<text transform="translate(1149.78 1452.97) scale(1 1.04)">-0.06</text>
<text transform="translate(1245.82 1452.97) scale(1 1.04)">0.21</text>
<text transform="translate(1341.88 1452.97) scale(1 1.04)">-0.03</text>
<text transform="translate(1053.72 1549.02) scale(1 1.04)">0.13</text>
<text transform="translate(1149.78 1549.02) scale(1 1.04)">-0.03</text>
<text transform="translate(1245.82 1549.02) scale(1 1.04)">-0.16</text>
<text transform="translate(1341.88 1549.02) scale(1 1.04)">0</text>
<text transform="translate(1149.78 1645.08) scale(1 1.04)">0.28</text>
<text transform="translate(1245.82 1645.08) scale(1 1.04)">0.03</text>
<text transform="translate(1341.88 1645.08) scale(1 1.04)">-0.12</text>
<text transform="translate(1245.82 1741.12) scale(1 1.04)">-0.17</text>
<text transform="translate(1341.88 1741.12) scale(1 1.04)">0.12</text>
<text transform="translate(1341.88 1837.17) scale(1 1.04)">0</text>
</g>
<g font-size="21.5" text-anchor="middle" stroke="#000" stroke-width="0.3" letter-spacing="0.6">
<text transform="translate(669.82 1139.53) scale(1 0.92)">***</text>
<text transform="translate(765.88 1139.53) scale(1 0.92)">***</text>
<text transform="translate(861.92 1139.53) scale(1 0.92)">***</text>
<text transform="translate(957.97 1139.53) scale(1 0.92)">***</text>
<text transform="translate(1054.02 1139.53) scale(1 0.92)">***</text>
<text transform="translate(1150.08 1139.53) scale(1 0.92)">***</text>
<text transform="translate(1342.17 1139.53) scale(1 0.92)">***</text>
<text transform="translate(765.88 1235.58) scale(1 0.92)">***</text>
<text transform="translate(861.92 1235.58) scale(1 0.92)">***</text>
<text transform="translate(957.97 1235.58) scale(1 0.92)">***</text>
<text transform="translate(1054.02 1235.58) scale(1 0.92)">***</text>
<text transform="translate(1150.08 1235.58) scale(1 0.92)">***</text>
<text transform="translate(1246.12 1235.58) scale(1 0.92)">***</text>
<text transform="translate(1342.17 1235.58) scale(1 0.92)">***</text>
<text transform="translate(861.92 1331.62) scale(1 0.92)">***</text>
<text transform="translate(957.97 1331.62) scale(1 0.92)">***</text>
<text transform="translate(1054.02 1331.62) scale(1 0.92)">***</text>
<text transform="translate(1150.08 1331.62) scale(1 0.92)">***</text>
<text transform="translate(1246.12 1331.62) scale(1 0.92)">***</text>
<text transform="translate(1342.17 1331.62) scale(1 0.92)">***</text>
<text transform="translate(957.97 1427.67) scale(1 0.92)">***</text>
<text transform="translate(1054.02 1427.67) scale(1 0.92)">***</text>
<text transform="translate(1150.08 1427.67) scale(1 0.92)">***</text>
<text transform="translate(1246.12 1427.67) scale(1 0.92)">***</text>
<text transform="translate(1342.17 1427.67) scale(1 0.92)">***</text>
<text transform="translate(1054.02 1523.72) scale(1 0.92)">***</text>
<text transform="translate(1150.08 1523.72) scale(1 0.92)">***</text>
<text transform="translate(1246.12 1523.72) scale(1 0.92)">***</text>
<text transform="translate(1150.08 1619.78) scale(1 0.92)">***</text>
<text transform="translate(1246.12 1619.78) scale(1 0.92)">***</text>
<text transform="translate(1342.17 1619.78) scale(1 0.92)">***</text>
<text transform="translate(1246.12 1715.82) scale(1 0.92)">***</text>
<text transform="translate(1342.17 1715.82) scale(1 0.92)">***</text>
</g>
<g font-size="27" text-anchor="end">
<text transform="translate(611.3 1159.93) scale(1 1.04)">POP_2020</text>
<text transform="translate(707.35 1255.98) scale(1 1.04)">D_2020</text>
<text transform="translate(803.4 1352.03) scale(1 1.04)">TMP_2020</text>
<text transform="translate(899.45 1448.08) scale(1 1.04)">CEC</text>
<text transform="translate(995.5 1544.12) scale(1 1.04)">SAND</text>
<text transform="translate(1091.55 1640.18) scale(1 1.04)">PR_2020</text>
<text transform="translate(1187.6 1736.22) scale(1 1.04)">DEM</text>
<text transform="translate(1283.65 1832.28) scale(1 1.04)">OC</text>
</g>
<g font-size="27">
<text transform="translate(674.32 1100.8) rotate(-45) scale(1 1.04)">D_2020</text>
<text transform="translate(770.38 1100.8) rotate(-45) scale(1 1.04)">TMP_2020</text>
<text transform="translate(866.42 1100.8) rotate(-45) scale(1 1.04)">CEC</text>
<text transform="translate(962.47 1100.8) rotate(-45) scale(1 1.04)">SAND</text>
<text transform="translate(1058.52 1100.8) rotate(-45) scale(1 1.04)">PR_2020</text>
<text transform="translate(1154.58 1100.8) rotate(-45) scale(1 1.04)">DEM</text>
<text transform="translate(1250.62 1100.8) rotate(-45) scale(1 1.04)">OC</text>
<text transform="translate(1346.67 1100.8) rotate(-45) scale(1 1.04)">Fire_2020</text>
</g>
<rect x="1403.5" y="1105.5" width="26.1" height="768.4" fill="url(#cb)" stroke="#000" stroke-width="1.35"/>
<g font-size="31" text-anchor="middle">
<line x1="1429.6" y1="1105.5" x2="1435.3" y2="1105.5" stroke="#000" stroke-width="1.35"/>
<text transform="translate(1461.8 1116.7) scale(1 1.04)">1</text>
<line x1="1429.6" y1="1182.34" x2="1435.3" y2="1182.34" stroke="#000" stroke-width="1.35"/>
<text transform="translate(1461.8 1193.54) scale(1 1.04)">0.8</text>
<line x1="1429.6" y1="1259.18" x2="1435.3" y2="1259.18" stroke="#000" stroke-width="1.35"/>
<text transform="translate(1461.8 1270.38) scale(1 1.04)">0.6</text>
<line x1="1429.6" y1="1336.02" x2="1435.3" y2="1336.02" stroke="#000" stroke-width="1.35"/>
<text transform="translate(1461.8 1347.22) scale(1 1.04)">0.4</text>
<line x1="1429.6" y1="1412.86" x2="1435.3" y2="1412.86" stroke="#000" stroke-width="1.35"/>
<text transform="translate(1461.8 1424.06) scale(1 1.04)">0.2</text>
<line x1="1429.6" y1="1489.7" x2="1435.3" y2="1489.7" stroke="#000" stroke-width="1.35"/>
<text transform="translate(1461.8 1500.9) scale(1 1.04)">0</text>
<line x1="1429.6" y1="1566.54" x2="1435.3" y2="1566.54" stroke="#000" stroke-width="1.35"/>
<text transform="translate(1461.8 1577.74) scale(1 1.04)">-0.2</text>
<line x1="1429.6" y1="1643.38" x2="1435.3" y2="1643.38" stroke="#000" stroke-width="1.35"/>
<text transform="translate(1461.8 1654.58) scale(1 1.04)">-0.4</text>
<line x1="1429.6" y1="1720.22" x2="1435.3" y2="1720.22" stroke="#000" stroke-width="1.35"/>
<text transform="translate(1461.8 1731.42) scale(1 1.04)">-0.6</text>
<line x1="1429.6" y1="1797.06" x2="1435.3" y2="1797.06" stroke="#000" stroke-width="1.35"/>
<text transform="translate(1461.8 1808.26) scale(1 1.04)">-0.8</text>
<line x1="1429.6" y1="1873.9" x2="1435.3" y2="1873.9" stroke="#000" stroke-width="1.35"/>
<text transform="translate(1461.8 1885.1) scale(1 1.04)">-1</text>
</g>
<text transform="translate(624.5 1677.6) scale(0.928 1)" font-size="42.9">2020</text>
<text x="475" y="1022.8" font-size="53.5" font-weight="bold">c</text>
</g>
</svg></body></html>
